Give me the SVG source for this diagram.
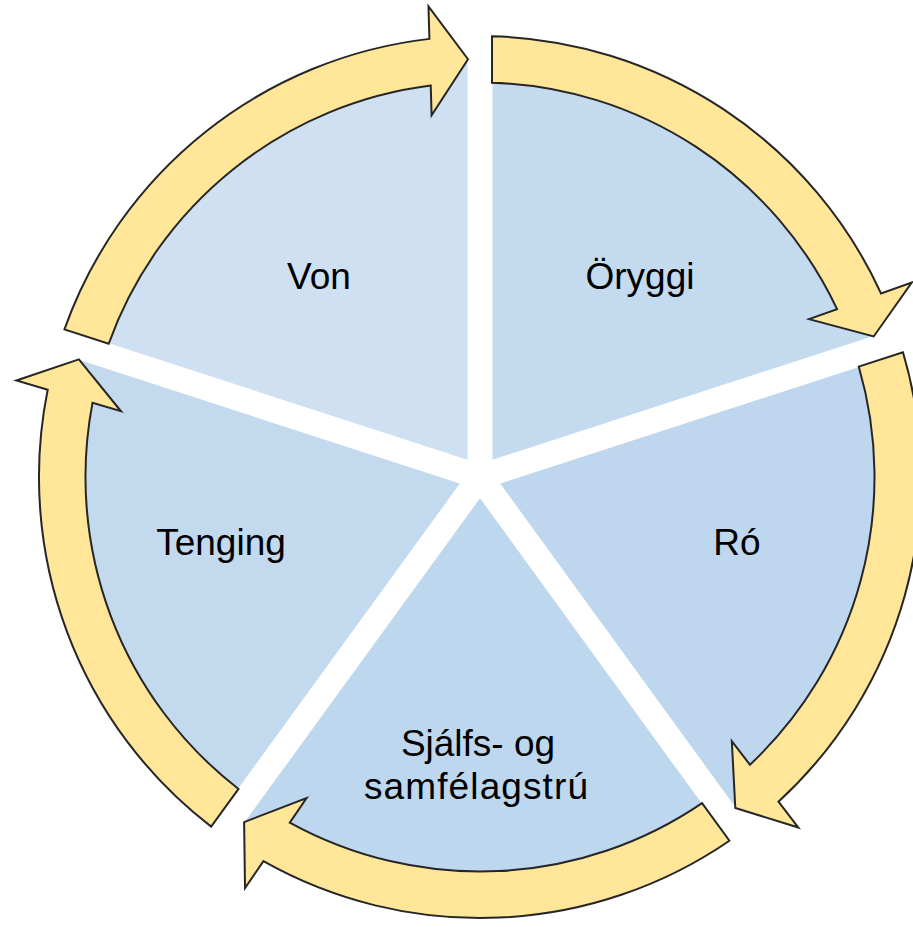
<svg xmlns="http://www.w3.org/2000/svg" width="913" height="927" viewBox="0 0 913 927">
  <style>
    .lbl { font-family: "Liberation Sans", Arial, sans-serif; font-size: 37px; fill: #000000; text-anchor: middle; }
    .arrow { fill: #FFE699; stroke: #262626; stroke-width: 2; stroke-linejoin: miter; }
  </style>
  <defs>
    <path id="sector" d="M 12.5,-17.21 L 12.5,-417.81 A 418 418 0 0 1 393.50,-141.00 Z"/>
    <path id="arrowShape" d="M 12,-440.84 A 441 441 0 0 1 401.04,-183.51 L 431.75,-194.47 L 393.67,-140.53 L 329.09,-157.83 L 357.06,-167.81 A 394.5 394.5 0 0 0 12,-394.32 Z"/>
  </defs>
  <rect width="913" height="927" fill="#FFFFFF"/>

  <g id="node-oryggi">
    <use href="#sector" transform="translate(480,477) rotate(0)" fill="#C4DAEE"/>
    <text class="lbl" x="640" y="289">Öryggi</text>
  </g>
  <g id="node-ro">
    <use href="#sector" transform="translate(480,477) rotate(72)" fill="#BFD7EE"/>
    <text class="lbl" x="737" y="555">Ró</text>
  </g>
  <g id="node-sjalfs">
    <use href="#sector" transform="translate(480,477) rotate(144)" fill="#BDD7EE"/>
    <text class="lbl" x="478" y="756">Sjálfs- og</text>
    <text class="lbl" x="476" y="799" textLength="224" lengthAdjust="spacing">samfélagstrú</text>
  </g>
  <g id="node-tenging">
    <use href="#sector" transform="translate(480,477) rotate(216)" fill="#C2D9EE"/>
    <text class="lbl" x="221" y="555">Tenging</text>
  </g>
  <g id="node-von">
    <use href="#sector" transform="translate(480,477) rotate(288)" fill="#CEE0F1"/>
    <text class="lbl" x="319" y="289">Von</text>
  </g>

  <g id="connectors">
    <use href="#arrowShape" class="arrow" transform="translate(480,477) rotate(0)"/>
    <use href="#arrowShape" class="arrow" transform="translate(480,477) rotate(72)"/>
    <use href="#arrowShape" class="arrow" transform="translate(480,477) rotate(144)"/>
    <use href="#arrowShape" class="arrow" transform="translate(480,477) rotate(216)"/>
    <use href="#arrowShape" class="arrow" transform="translate(480,477) rotate(288)"/>
  </g>
</svg>
